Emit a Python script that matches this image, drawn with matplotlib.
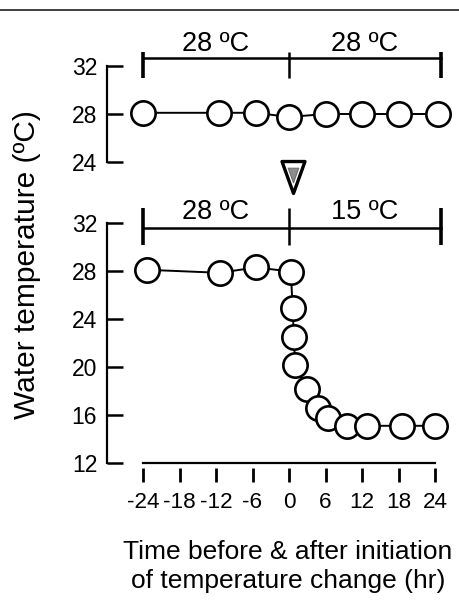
import matplotlib
matplotlib.use('Agg')
import matplotlib.pyplot as plt
from matplotlib.path import Path

plt.rcParams['font.family'] = ['Liberation Sans', 'DejaVu Sans']

# control group: held at 28 oC throughout
time_ctrl = [-24, -11.5, -5.5, 0, 6, 12, 18, 24.5]
temp_ctrl = [28.1, 28.1, 28.1, 27.75, 28.0, 28.0, 28.0, 28.0]

# shifted group: 28 oC, then dropped to 15 oC at time 0
time_shift = [-23.3, -11.4, -5.4, 0.3, 0.6, 0.8, 1.0, 2.9, 4.7, 6.4, 9.5, 12.8, 18.6, 24.0]
temp_shift = [28.1, 27.85, 28.3, 27.95, 24.9, 22.5, 20.2, 18.2, 16.6, 15.75, 15.1, 15.1, 15.1, 15.1]

# periods shown by the brackets above each panel
period_edges = [-24, 0, 25]
ctrl_labels = ['28 ºC', '28 ºC']
shift_labels = ['28 ºC', '15 ºC']
change_time = 0.6

xticks = [-24, -18, -12, -6, 0, 6, 12, 18, 24]
yticks_top = [24, 28, 32]
yticks_bottom = [12, 16, 20, 24, 28, 32]

W, H = 459, 600
fig = plt.figure(figsize=(W / 100, H / 100), dpi=100)

left = 143 / W
width = (435 - 143) / W
ax_top = fig.add_axes([left, 1 - 162 / H, width, 96 / H])
ax_bot = fig.add_axes([left, 1 - 463 / H, width, 240 / H])

marker_kw = dict(marker='o', markersize=17.5, markerfacecolor='white',
                 markeredgecolor='black', markeredgewidth=1.9,
                 color='black', lw=1.4, clip_on=False, zorder=3)


def style_axis(ax, yticks):
    ax.set_xlim(-24, 24)
    ax.set_ylim(yticks[0], yticks[-1])
    ax.set_yticks(yticks)
    for s in ('top', 'right', 'bottom'):
        ax.spines[s].set_visible(False)
    ax.spines['left'].set_position(('outward', 26))
    ax.spines['left'].set_linewidth(1.6)
    ax.tick_params(axis='y', direction='in', length=11.5, width=1.8,
                   pad=7, labelsize=16.5)
    ax.patch.set_visible(False)


def bracket(ax, edges, labels, y, lo, hi, label_y):
    x0, xm, x1 = edges
    ax.plot([x0, x1], [y, y], color='black', lw=1.8, clip_on=False)
    for x, lw in ((x0, 2.6), (xm, 1.8), (x1, 2.6)):
        ax.plot([x, x], [lo, hi], color='black', lw=lw, clip_on=False,
                solid_capstyle='butt')
    ax.text((x0 + xm) / 2, label_y, labels[0], ha='center', va='center',
            fontsize=19.5)
    ax.text((xm + x1) / 2, label_y, labels[1], ha='center', va='center',
            fontsize=19.5)


# top panel
style_axis(ax_top, yticks_top)
ax_top.set_xticks([])
ax_top.plot(time_ctrl, temp_ctrl, **marker_kw)
bracket(ax_top, period_edges, ctrl_labels, 32.67, 31.0, 33.17, 33.85)

# bottom panel
style_axis(ax_bot, yticks_bottom)
ax_bot.set_xticks(xticks)
ax_bot.set_xticklabels([str(t) for t in xticks])
ax_bot.spines['bottom'].set_visible(False)
ax_bot.spines['bottom'].set_position(('outward', 3.6))
ax_bot.tick_params(axis='x', direction='out', length=10, width=2,
                   pad=7, labelsize=16.2)
ax_bot.plot([xticks[0], xticks[-1]], [12, 12], color='black', lw=1.6,
            clip_on=False)
ax_bot.plot(time_shift, temp_shift, **marker_kw)
bracket(ax_bot, period_edges, shift_labels, 31.6, 30.2, 33.25, 32.9)

# marker for the onset of the temperature change
tri = Path([(-0.72, 1), (0.72, 1), (0, -1), (-0.72, 1)],
           [Path.MOVETO, Path.LINETO, Path.LINETO, Path.CLOSEPOLY])
ax_bot.plot([change_time], [35.8], marker=tri, markersize=23,
            markerfacecolor='white', markeredgecolor='black',
            markeredgewidth=2.4, clip_on=False)
ax_bot.plot([change_time], [36.0], marker=tri, markersize=10.5,
            markerfacecolor='#8c8c8c', markeredgecolor='#6e6e6e',
            markeredgewidth=0.8, clip_on=False)

ax_bot.set_xlabel('Time before & after initiation\nof temperature change (hr)',
                  fontsize=19, linespacing=1.25)
ax_bot.xaxis.set_label_coords((288 - 143) / 292, (463 - 540) / 240)
ax_bot.xaxis.label.set_verticalalignment('top')

fig.text(27 / W, 1 - 265 / H, 'Water temperature (ºC)', rotation=90,
         ha='center', va='center', fontsize=21.5)

# thin rule along the top of the figure
fig.add_artist(plt.Line2D([0, 1], [1 - 10 / H, 1 - 10 / H], color='#333333',
                          lw=1.3))

fig.savefig('out.png', dpi=100)
